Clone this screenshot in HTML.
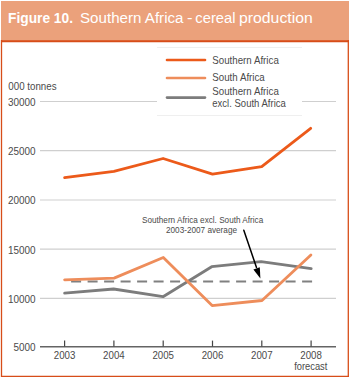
<!DOCTYPE html>
<html><head><meta charset="utf-8">
<style>
html,body{margin:0;padding:0;background:#fff;width:350px;height:377px;overflow:hidden;}
svg{display:block;}
text{font-family:"Liberation Sans", sans-serif;}
</style></head>
<body>
<svg width="350" height="377" viewBox="0 0 350 377">
<rect x="1" y="1" width="348" height="40" fill="#EBA17B"/>
<line x1="1" y1="41.3" x2="349" y2="41.3" stroke="#D74D19" stroke-width="2"/>
<line x1="1.5" y1="40" x2="1.5" y2="377" stroke="#D74D19" stroke-width="1.3"/>
<line x1="348.3" y1="40" x2="348.3" y2="377" stroke="#D74D19" stroke-width="1.3"/>
<line x1="1" y1="376.4" x2="349" y2="376.4" stroke="#D74D19" stroke-width="1.3"/>
<text x="8" y="23" font-size="13.8" textLength="65" lengthAdjust="spacingAndGlyphs" fill="#fff" font-weight="bold">Figure 10.</text>
<text x="80" y="23" font-size="14" textLength="103.5" lengthAdjust="spacingAndGlyphs" fill="#fff">Southern Africa</text>
<text x="187" y="23" font-size="14" textLength="5.5" lengthAdjust="spacingAndGlyphs" fill="#fff">-</text>
<text x="195.3" y="23" font-size="14" textLength="40.2" lengthAdjust="spacingAndGlyphs" fill="#fff">cereal</text>
<text x="239" y="23" font-size="14" textLength="73.8" lengthAdjust="spacingAndGlyphs" fill="#fff">production</text>
<g stroke="#cfcfcf" stroke-width="1.2"><line x1="40" y1="101.5" x2="157" y2="101.5"/><line x1="302" y1="101.5" x2="336" y2="101.5"/><line x1="40" y1="150.7" x2="336" y2="150.7"/><line x1="40" y1="200.0" x2="336" y2="200.0"/><line x1="40" y1="249.1" x2="336" y2="249.1"/><line x1="40" y1="298.3" x2="336" y2="298.3"/></g>
<line x1="40" y1="346.8" x2="336" y2="346.8" stroke="#646464" stroke-width="1.5"/>
<g stroke="#444" stroke-width="1.2"><line x1="64.6" y1="340.6" x2="64.6" y2="346.6"/><line x1="113.9" y1="340.6" x2="113.9" y2="346.6"/><line x1="163.2" y1="340.6" x2="163.2" y2="346.6"/><line x1="212.5" y1="340.6" x2="212.5" y2="346.6"/><line x1="261.8" y1="340.6" x2="261.8" y2="346.6"/><line x1="311.1" y1="340.6" x2="311.1" y2="346.6"/></g>
<g fill="#4a4a4a">
<text x="35.6" y="105.9" font-size="10" textLength="27.6" lengthAdjust="spacingAndGlyphs" text-anchor="end">30000</text>
<text x="35.6" y="155.1" font-size="10" textLength="27.6" lengthAdjust="spacingAndGlyphs" text-anchor="end">25000</text>
<text x="35.6" y="204.4" font-size="10" textLength="27.6" lengthAdjust="spacingAndGlyphs" text-anchor="end">20000</text>
<text x="35.6" y="253.5" font-size="10" textLength="27.6" lengthAdjust="spacingAndGlyphs" text-anchor="end">15000</text>
<text x="35.6" y="302.7" font-size="10" textLength="27.6" lengthAdjust="spacingAndGlyphs" text-anchor="end">10000</text>
<text x="35.6" y="351.2" font-size="10" textLength="22.1" lengthAdjust="spacingAndGlyphs" text-anchor="end">5000</text>
<text x="8.3" y="90" font-size="10" textLength="48.3" lengthAdjust="spacingAndGlyphs">000 tonnes</text>
<text x="64.6" y="359.0" font-size="10.3" textLength="21.6" lengthAdjust="spacingAndGlyphs" text-anchor="middle">2003</text>
<text x="113.9" y="359.0" font-size="10.3" textLength="21.6" lengthAdjust="spacingAndGlyphs" text-anchor="middle">2004</text>
<text x="163.2" y="359.0" font-size="10.3" textLength="21.6" lengthAdjust="spacingAndGlyphs" text-anchor="middle">2005</text>
<text x="212.5" y="359.0" font-size="10.3" textLength="21.6" lengthAdjust="spacingAndGlyphs" text-anchor="middle">2006</text>
<text x="261.8" y="359.0" font-size="10.3" textLength="21.6" lengthAdjust="spacingAndGlyphs" text-anchor="middle">2007</text>
<text x="311.1" y="359.0" font-size="10.3" textLength="21.6" lengthAdjust="spacingAndGlyphs" text-anchor="middle">2008</text>
<text x="310.8" y="370.4" font-size="10" textLength="33.2" lengthAdjust="spacingAndGlyphs" text-anchor="middle">forecast</text>
</g>
<line x1="157" y1="47.5" x2="302" y2="47.5" stroke="#efefef" stroke-width="1"/><line x1="157" y1="115.5" x2="302" y2="115.5" stroke="#efefef" stroke-width="1"/>
<g stroke-width="2.6" stroke-linecap="round"><line x1="167" y1="60" x2="205" y2="60" stroke="#EC5A1A"/><line x1="167" y1="78" x2="205" y2="78" stroke="#EE8D5B"/><line x1="167" y1="97.6" x2="205" y2="97.6" stroke="#7c7c7c"/></g>
<g fill="#4a4a4a">
<text x="212.3" y="64.2" font-size="10.3" textLength="66.5" lengthAdjust="spacingAndGlyphs">Southern Africa</text>
<text x="212.3" y="80.7" font-size="10.3" textLength="52.5" lengthAdjust="spacingAndGlyphs">South Africa</text>
<text x="212.3" y="95.0" font-size="10.3" textLength="66.5" lengthAdjust="spacingAndGlyphs">Southern Africa</text>
<text x="212.3" y="106.9" font-size="10.3" textLength="73.5" lengthAdjust="spacingAndGlyphs">excl. South Africa</text>
</g>
<line x1="71.1" y1="281.6" x2="312.1" y2="281.6" stroke="#808080" stroke-width="2" stroke-dasharray="10 6.5"/>
<g fill="none" stroke-width="2.8" stroke-linejoin="round" stroke-linecap="round"><polyline stroke="#7c7c7c" points="64.6,293.2 113.6,289 163,296.7 211.7,266.7 261.1,261.6 311.2,268.6"/><polyline stroke="#EE8D5B" points="64.6,279.8 114.1,278.1 163.3,257.5 212.1,305.6 262,300.5 310.9,254.9"/><polyline stroke="#EC5A1A" points="64.6,177.6 113.9,171.4 163.1,158.5 212.5,174.1 261.7,166.6 310.7,128.3"/></g>
<g fill="#4a4a4a">
<text x="142.0" y="223.1" font-size="9.5" textLength="121.2" lengthAdjust="spacingAndGlyphs">Southern Africa excl. South Africa</text>
<text x="166.0" y="233.0" font-size="9.5" textLength="71" lengthAdjust="spacingAndGlyphs">2003-2007 average</text>
</g>
<line x1="243.8" y1="230.3" x2="256.5" y2="267.5" stroke="#000" stroke-width="1.5" stroke-linecap="round"/>
<polygon points="253.4,269.5 259.8,267.2 260.4,278.6" fill="#000"/>
</svg>
</body></html>
